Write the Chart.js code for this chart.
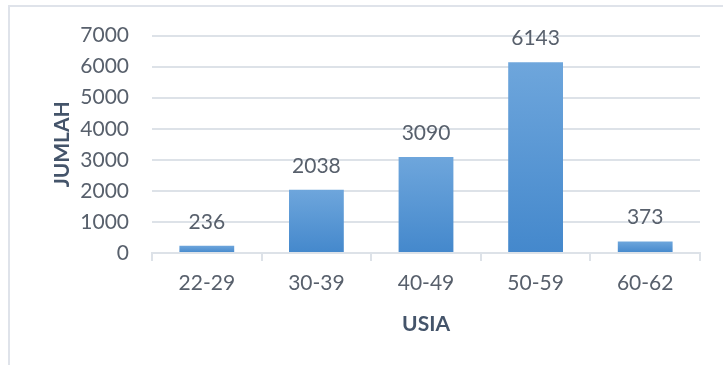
<!DOCTYPE html>
<html>
<head>
<meta charset="utf-8">
<script src="https://cdn.jsdelivr.net/npm/chart.js@4/dist/chart.umd.min.js"></script>
<style>
  html, body { margin: 0; padding: 0; background: #fff; }
  #wrap { position: relative; width: 723px; height: 365px; }
  canvas { display: block; }
</style>
</head>
<body>
<div id="wrap"><canvas id="c" width="723" height="365"></canvas></div>
<script>
const categories = ['22-29', '30-39', '40-49', '50-59', '60-62'];
const values = [236, 2038, 3090, 6143, 373];
const yTicks = [0, 1000, 2000, 3000, 4000, 5000, 6000, 7000];
const xTitle = 'USIA';
const yTitle = 'JUMLAH';

const FONT = 'Lato, "Open Sans", sans-serif';
const TEXT = '#58606c';
const TITLE = '#44546A';
const GRID = '#dde2e8';

const frame = {
  id: 'frame',
  beforeDraw(chart) {
    const c = chart.ctx;
    c.save();
    c.strokeStyle = '#dfe3ea';
    c.lineWidth = 2;
    c.beginPath();
    c.moveTo(9, 365);
    c.lineTo(9, 6);
    c.lineTo(723, 6);
    c.stroke();
    c.restore();
  }
};

const labels = {
  id: 'valueLabels',
  afterDatasetsDraw(chart) {
    const c = chart.ctx;
    const meta = chart.getDatasetMeta(0);
    c.save();
    c.font = '21px ' + FONT;
    c.fillStyle = TEXT;
    c.textAlign = 'center';
    c.textBaseline = 'alphabetic';
    meta.data.forEach((bar, i) => {
      c.fillText(String(values[i]), bar.x, bar.y - 17);
    });
    c.restore();
  }
};

function barFill(ctx) {
  const chart = ctx.chart;
  if (!chart.chartArea || ctx.type !== 'data') return '#5b9bd5';
  const ys = chart.scales.y;
  const top = ys.getPixelForValue(values[ctx.dataIndex]);
  const bot = ys.getPixelForValue(0);
  if (!isFinite(top) || !isFinite(bot) || bot - top < 1) return '#4e8fd2';
  const g = chart.ctx.createLinearGradient(0, top, 0, bot);
  g.addColorStop(0, '#6ea6dc');
  g.addColorStop(1, '#4488cc');
  return g;
}

new Chart(document.getElementById('c'), {
  type: 'bar',
  data: {
    labels: categories,
    datasets: [{
      data: values,
      backgroundColor: barFill,
      barPercentage: 0.5,
      categoryPercentage: 1.0,
      borderWidth: 0
    }]
  },
  options: {
    responsive: false,
    animation: false,
    devicePixelRatio: 1,
    layout: { padding: { left: 0, right: 23, top: 0, bottom: 0 } },
    plugins: { legend: { display: false }, tooltip: { enabled: false } },
    scales: {
      x: {
        offset: true,
        grid: {
          display: true,
          offset: true,
          drawOnChartArea: false,
          drawTicks: true,
          tickLength: 8,
          color: GRID,
          lineWidth: 2
        },
        border: { display: true, color: GRID, width: 2 },
        ticks: {
          color: TEXT,
          font: { family: FONT, size: 21 },
          padding: 10,
          maxRotation: 0
        },
        title: {
          display: true,
          text: xTitle,
          color: TITLE,
          font: { family: FONT, size: 21, weight: 'bold' },
          padding: { top: 0, bottom: 28 }
        },
        afterFit(scale) { scale.height = 365 - 253; }
      },
      y: {
        min: 0,
        max: 7000,
        afterBuildTicks(scale) { scale.ticks = yTicks.map(v => ({ value: v })); },
        grid: {
          color: GRID,
          lineWidth: 2,
          drawTicks: false
        },
        border: { display: false },
        ticks: {
          color: TEXT,
          font: { family: FONT, size: 21 },
          padding: 23,
          callback: (v) => String(v)
        },
        title: {
          display: true,
          text: yTitle,
          color: TITLE,
          font: { family: FONT, size: 21, weight: 'bold' },
          padding: { top: 50, bottom: 0 }
        },
        afterFit(scale) { scale.width = 152; }
      }
    }
  },
  plugins: [frame, labels]
});
</script>
</body>
</html>
